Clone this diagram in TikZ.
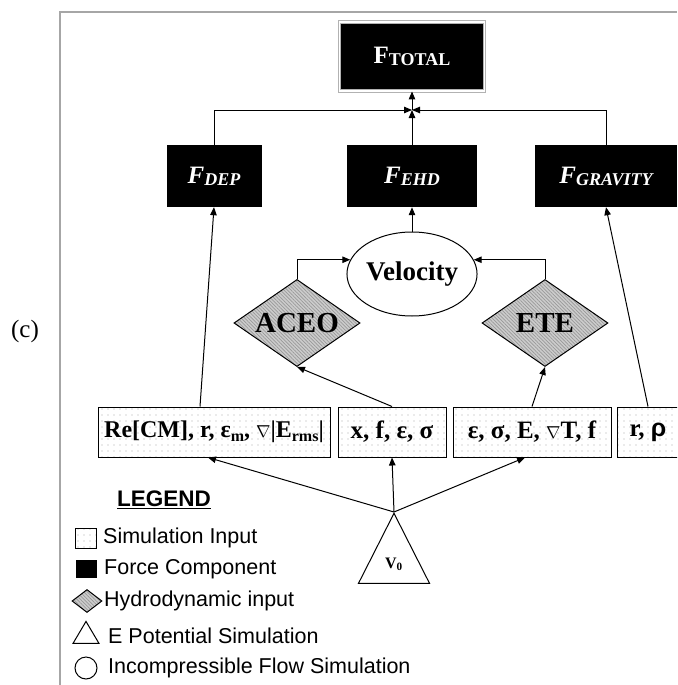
\documentclass[tikz,border=0pt]{standalone}
\usepackage{fontspec}
\setmainfont{Liberation Serif}
\newfontfamily\legfont{Liberation Sans}
\usetikzlibrary{shapes.geometric,arrows.meta,patterns.meta}
\newcommand{\fsz}[1]{\fontsize{#1}{#1}\selectfont}
\newcommand{\fsub}[1]{\raisebox{-2pt}{\fsz{18}#1}}
\newcommand{\isub}[1]{\raisebox{-4pt}{\fsz{16}#1}}
\newcommand{\nab}{{\fsz{18}$\nabla$}}
\tikzset{
  arr/.style={draw=black, line width=1pt, -{Triangle[length=8pt,width=6.5pt]}},
  frame/.style={draw=gray!70, line width=1.6pt},
  total/.style={rectangle, fill=black, draw=gray!60, double=white, double distance=1.4pt, line width=0.9pt, text=white, font=\bfseries\fsz{25}, inner sep=0pt},
  force/.style={rectangle, fill=black, text=white, font=\bfseries\itshape\fsz{25}, inner sep=0pt},
  simin/.style={rectangle, draw=black, line width=1pt, preaction={fill=white}, pattern={Dots[distance=6pt,radius=0.7pt]}, pattern color=gray!65, font=\bfseries\fsz{25}, inner sep=0pt, minimum height=50pt},
  hydro/.style={diamond, aspect=1.45, draw=black, line width=1pt, preaction={fill=gray!40}, pattern={Lines[angle=-45,distance=2.5pt,line width=0.7pt]}, pattern color=gray!80, font=\bfseries\fsz{29}, inner sep=0pt},
  flow/.style={ellipse, draw=black, line width=1pt, font=\bfseries\fsz{27}, inner sep=0pt},
  potent/.style={isosceles triangle, shape border rotate=90, isosceles triangle stretches, draw=black, line width=1pt, font=\bfseries\fsz{16}, inner sep=0pt},
  legtext/.style={anchor=west, font=\legfont\fsz{21.5}, inner sep=0pt},
  tag/.style={font=\fsz{25}, inner sep=0pt}
}
\begin{document}
\begin{tikzpicture}[x=1pt,y=-1pt]
    \useasboundingbox (0,0) rectangle (677,685);
    \clip (0,0) rectangle (677,685);
    % frame and panel tag
    \draw[frame] (60,685) |- (677,12);
    \node[tag] (panel) at (25,331) {(c)};
    % total force
    \node[total, minimum width=145pt, minimum height=69pt] (ftotal) at (412,56.5) {F\fsub{TOTAL}};
    \coordinate (junc) at (412,110);
    % force row
    \node[force, minimum width=95pt, minimum height=62pt] (fdep) at (214,176) {F\fsub{DEP}};
    \node[force, minimum width=130pt, minimum height=62pt] (fehd) at (412,176) {F\fsub{EHD}};
    \node[force, minimum width=142pt, minimum height=62pt] (fgrav) at (606,176) {F\fsub{GRAVITY}};
    % flow and hydrodynamic row
    \node[flow, minimum width=107pt, minimum height=84pt] (vel) at (412,274) {Velocity};
    \node[hydro, minimum width=126pt, minimum height=87pt] (aceo) at (297,323) {ACEO};
    \node[hydro, minimum width=126pt, minimum height=87pt] (ete) at (545,323) {ETE};
    % simulation inputs
    \node[simin, minimum width=232pt, font=\bfseries\fsz{24}] (inre) at (214,432) {Re[CM], r, ε\isub{m}, \nab|E\isub{rms}|};
    \node[simin, minimum width=108pt] (inx) at (392,432) {x, f, ε, σ};
    \node[simin, minimum width=158pt] (ineps) at (532,432) {ε, σ, E, \nab T, f};
    \node[simin, minimum width=62pt] (inr) at (648,432) {r, {\legfont ρ}};
    % potential
    \node[potent, minimum width=71pt, minimum height=70pt, anchor=apex] (vzero) at (394,512) {V\textsubscript{0}};
    % connectors to total
    \draw[arr] (fdep.north) |- (junc);
    \draw[arr] (fgrav.north) |- (junc);
    \draw[arr] (fehd.north) -- (junc);
    \draw[arr] (junc) -- (ftotal.south);
    % connectors to forces
    \draw[arr] ([xshift=-14pt]inre.north) -- (fdep.south);
    \draw[arr] (vel.north) -- (fehd.south);
    \draw[arr] (inr.north) -- (fgrav.south);
    \draw[arr] (aceo.north) |- (vel.167);
    \draw[arr] (ete.north) |- (vel.13);
    \draw[arr] (inx.north) -- (aceo.south);
    \draw[arr] (ineps.north) -- (ete.south);
    % connectors from potential
    \draw[arr] (vzero.apex) -- ([xshift=-6pt]inre.south);
    \draw[arr] (vzero.apex) -- (inx.south);
    \draw[arr] (vzero.apex) -- ([xshift=-7pt]ineps.south);
    % legend
    \node[font=\legfont\bfseries\fsz{22.5}, inner sep=0pt] (legend) at (164,500) {\underline{LEGEND}};
    \node[simin, minimum width=21pt, minimum height=20pt, line width=0.8pt] (keysim) at (86,538) {};
    \node[force, minimum width=21pt, minimum height=18pt] (keyforce) at (86,569) {};
    \node[hydro, minimum width=30pt, minimum height=23pt] (keyhydro) at (87,601) {};
    \node[potent, minimum width=26pt, minimum height=22pt] (keypot) at (86,636) {};
    \node[flow, minimum size=22pt] (keyflow) at (86,668) {};
    \node[legtext] (txtsim) at (103,538) {Simulation Input};
    \node[legtext] (txtforce) at (104,569) {Force Component};
    \node[legtext] (txthydro) at (104,601) {Hydrodynamic input};
    \node[legtext] (txtpot) at (108,636) {E Potential Simulation};
    \node[legtext] (txtflow) at (108,668) {Incompressible Flow Simulation};
\end{tikzpicture}
\end{document}
